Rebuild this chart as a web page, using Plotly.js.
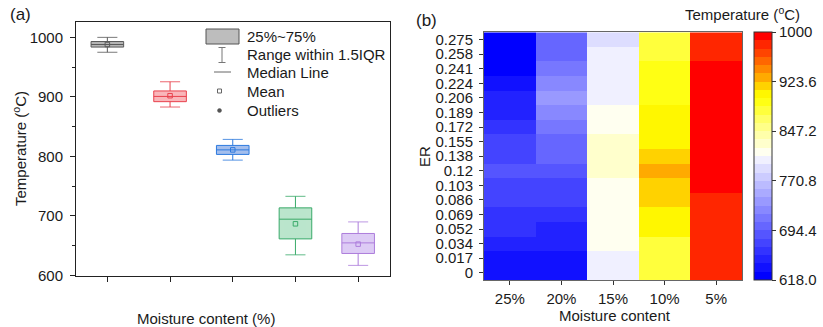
<!DOCTYPE html>
<html>
<head>
<meta charset="utf-8">
<script src="https://cdn.plot.ly/plotly-3.0.1.min.js"></script>
<style>html,body{margin:0;padding:0;background:#fff;}#chart{width:823px;height:327px;}</style>
</head>
<body>
<div id="chart"></div>
<script>
// ---------- data ----------
const moisture = ['25%', '20%', '15%', '10%', '5%'];
const erLabels = ['0', '0.017', '0.034', '0.052', '0.069', '0.086', '0.103', '0.12', '0.138',
                  '0.155', '0.172', '0.189', '0.206', '0.224', '0.241', '0.258', '0.275'];
// temperature per ER row (from ER = 0 up to 0.275), one array per moisture content
const T25 = [636, 639, 648, 660, 664, 672, 675, 690, 677, 673, 667, 655, 650, 642, 626, 621, 618];
const T20 = [635, 638, 650, 654, 662, 676, 679, 688, 697, 700, 712, 725, 735, 727, 716, 703, 701];
const T15 = [803, 805, 812, 814, 815, 816, 818, 829, 825, 823, 817, 811, 808, 806, 803, 800, 794];
const T10 = [884, 884.5, 883.5, 903, 905, 915, 917, 925, 913, 906, 902, 900, 893, 891, 889, 885, 883];
const T5  = [976, 978, 980, 982, 984, 986, 988, 1000, 997, 995, 993, 992, 991, 990, 989, 985, 975];

// box plot statistics (order: 5%, 10%, 15%, 20%, 25%)
const boxPos    = [1, 2, 3, 4, 5];
const boxQ1     = [983.7, 892, 803.4, 661.5, 637];
const boxMedian = [988, 900.8, 811, 694.6, 654.8];
const boxQ3     = [993, 910, 818.5, 713.6, 670.6];
const boxLower  = [975, 883, 793.8, 634.7, 617];
const boxUpper  = [1000, 925.4, 828.6, 733, 690];
const boxMean   = [988, 902, 811, 686.8, 652.7];

const cbTicks    = [618, 694.4, 770.8, 847.2, 923.6, 1000];
const cbTickText = ['618.0', '694.4', '770.8', '847.2', '923.6', '1000'];
const zMin = 618, zMax = 1000;

// ---------- styles ----------
const W = 823, H = 327;
const X = p => p / W;
const Y = p => 1 - p / H;
const FONT = 'Arial, "Liberation Sans", sans-serif';
const TXT = '#1a1a1a';

const boxLine = ['#5a5a5a', '#e8404c', '#2d7ade', '#3aaa6a', '#ad7ddc'];
const boxFill = ['rgba(120,120,120,0.55)', 'rgba(240,80,90,0.42)', 'rgba(50,110,215,0.45)',
                 'rgba(60,180,110,0.35)', 'rgba(175,130,230,0.42)'];

const bandColors = [
  '#0000ff', '#1111ff', '#2222ff', '#3333ff', '#4444ff', '#5555ff', '#6666ff', '#7777ff',
  '#8888ff', '#9999ff', '#aaaaff', '#bbbbff', '#ccccff', '#ddddff', '#f0f0ff',
  '#fffff0', '#ffffcc', '#ffffaa', '#ffff88', '#ffff66', '#ffff3c', '#ffff14',
  '#fff700', '#ffd200', '#ffaa00', '#ff8800', '#ff6600', '#ff4400', '#ff2600', '#ff0000'
];
const nb = bandColors.length;
const colorscale = [];
bandColors.forEach((c, k) => { colorscale.push([k / nb, c]); colorscale.push([(k + 1) / nb, c]); });

// ---------- traces ----------
const traces = [];
boxPos.forEach((p, i) => {
  traces.push({
    type: 'box', x: [p], q1: [boxQ1[i]], median: [boxMedian[i]], q3: [boxQ3[i]],
    lowerfence: [boxLower[i]], upperfence: [boxUpper[i]],
    boxpoints: false, width: 0.52, whiskerwidth: 0,
    line: {color: boxLine[i], width: 1}, fillcolor: boxFill[i],
    xaxis: 'x', yaxis: 'y', showlegend: false, hoverinfo: 'skip'
  });
  traces.push({
    type: 'scatter', mode: 'lines',
    x: [p - 0.16, p + 0.16, null, p - 0.16, p + 0.16],
    y: [boxUpper[i], boxUpper[i], null, boxLower[i], boxLower[i]],
    line: {color: boxLine[i], width: 1}, opacity: 0.8,
    xaxis: 'x', yaxis: 'y', showlegend: false, hoverinfo: 'skip'
  });
});
traces.push({
  type: 'scatter', mode: 'markers', x: boxPos, y: boxMean,
  marker: {symbol: 'square-open', size: 4.5, color: boxLine, line: {width: 1}},
  xaxis: 'x', yaxis: 'y', showlegend: false, hoverinfo: 'skip'
});

const z = erLabels.map((_, i) => [T25[i], T20[i], T15[i], T10[i], T5[i]]);
traces.push({
  type: 'heatmap', x: moisture, y: erLabels, z: z,
  zmin: zMin, zmax: zMax, colorscale: colorscale,
  xaxis: 'x2', yaxis: 'y2', xgap: 0, ygap: 0,
  colorbar: {
    x: X(754), xanchor: 'left', y: Y(280), yanchor: 'bottom',
    len: 248 / H, lenmode: 'fraction', thickness: 18, thicknessmode: 'pixels',
    xpad: 0, ypad: 0, outlinewidth: 1, outlinecolor: '#333',
    tickmode: 'array', tickvals: cbTicks, ticktext: cbTickText,
    ticks: 'outside', ticklen: 4, tickcolor: '#333', ticklabelstandoff: 6,
    tickfont: {family: FONT, size: 15, color: TXT}
  }
});

// ---------- legend for box plot (drawn as shapes + text) ----------
const shapes = [
  {type: 'rect', xref: 'paper', yref: 'paper', x0: X(206), x1: X(239), y0: Y(44), y1: Y(29),
   fillcolor: '#bdbdbd', line: {color: '#555', width: 1}},
  {type: 'line', xref: 'paper', yref: 'paper', x0: X(222), x1: X(222), y0: Y(62.5), y1: Y(47.5),
   line: {color: '#777', width: 1}},
  {type: 'line', xref: 'paper', yref: 'paper', x0: X(218.5), x1: X(225.5), y0: Y(47.5), y1: Y(47.5),
   line: {color: '#777', width: 1}},
  {type: 'line', xref: 'paper', yref: 'paper', x0: X(218.5), x1: X(225.5), y0: Y(62.5), y1: Y(62.5),
   line: {color: '#777', width: 1}},
  {type: 'line', xref: 'paper', yref: 'paper', x0: X(214), x1: X(231), y0: Y(72), y1: Y(72),
   line: {color: '#666', width: 1}},
  {type: 'rect', xref: 'paper', yref: 'paper', x0: X(217.5), x1: X(221.5), y0: Y(93), y1: Y(89),
   fillcolor: 'rgba(0,0,0,0)', line: {color: '#666', width: 1}},
  {type: 'circle', xref: 'paper', yref: 'paper', x0: X(217.5), x1: X(221.5), y0: Y(112.5), y1: Y(108.5),
   fillcolor: '#555', line: {color: '#555', width: 0.5}}
];
const legendItems = ['25%~75%', 'Range within 1.5IQR', 'Median Line', 'Mean', 'Outliers'];
const legendY = [36, 54, 72.5, 91.5, 110.5];

const ann = (text, x, y, opts) => Object.assign({
  text: text, xref: 'paper', yref: 'paper', x: X(x), y: Y(y), showarrow: false,
  font: {family: FONT, size: 15, color: TXT}, xanchor: 'center', yanchor: 'middle'
}, opts || {});

const annotations = legendItems.map((t, i) => ann(t, 245, legendY[i], {xanchor: 'left'}));
annotations.push(ann('(a)', 20.5, 15, {font: {family: FONT, size: 17, color: TXT}}));
annotations.push(ann('(b)', 426, 20, {font: {family: FONT, size: 17, color: TXT}}));
annotations.push(ann('Temperature (<sup>o</sup>C)', 19, 149, {textangle: -90}));
annotations.push(ann('Moisture content (%)', 206, 318));
annotations.push(ann('ER', 424, 156, {textangle: -90}));
annotations.push(ann('Moisture content', 615, 315));
annotations.push(ann('Temperature (<sup>o</sup>C)', 742, 13.5));

const tickFont = {family: FONT, size: 15, color: TXT};

const layout = {
  width: W, height: H,
  margin: {l: 0, r: 0, t: 0, b: 0, autoexpand: false},
  paper_bgcolor: '#fff', plot_bgcolor: '#fff',
  showlegend: false,
  xaxis: {
    domain: [X(76), X(389.5)], range: [0.5, 5.5], anchor: 'y',
    tickmode: 'array', tickvals: boxPos, showticklabels: false,
    ticks: 'outside', ticklen: 5, tickcolor: '#222',
    showline: true, linecolor: '#222', linewidth: 1, mirror: true,
    showgrid: false, zeroline: false
  },
  yaxis: {
    domain: [Y(275.5), Y(22.3)], range: [600, 1025.3], anchor: 'x',
    tickmode: 'linear', tick0: 600, dtick: 100,
    ticks: 'outside', ticklen: 5, tickcolor: '#222', ticklabelstandoff: 4,
    minor: {dtick: 50, ticks: 'outside', ticklen: 3, tickcolor: '#222', showgrid: false},
    tickfont: tickFont,
    showline: true, linecolor: '#222', linewidth: 1, mirror: true,
    showgrid: false, zeroline: false
  },
  xaxis2: {
    domain: [X(484), X(742)], anchor: 'y2', type: 'category',
    ticks: 'outside', ticklen: 4, tickcolor: '#333', ticklabelstandoff: 1,
    tickfont: tickFont,
    showline: true, linecolor: '#666', linewidth: 1, mirror: true,
    showgrid: false, zeroline: false
  },
  yaxis2: {
    domain: [Y(280), Y(32.3)], anchor: 'x2', type: 'category',
    tickmode: 'array', tickvals: erLabels, ticktext: erLabels,
    ticks: 'outside', ticklen: 4, tickcolor: '#333', ticklabelstandoff: 3,
    tickfont: tickFont,
    showline: true, linecolor: '#666', linewidth: 1, mirror: true,
    showgrid: false, zeroline: false
  },
  shapes: shapes,
  annotations: annotations
};

Plotly.newPlot('chart', traces, layout, {displayModeBar: false, staticPlot: true});
</script>
</body>
</html>
